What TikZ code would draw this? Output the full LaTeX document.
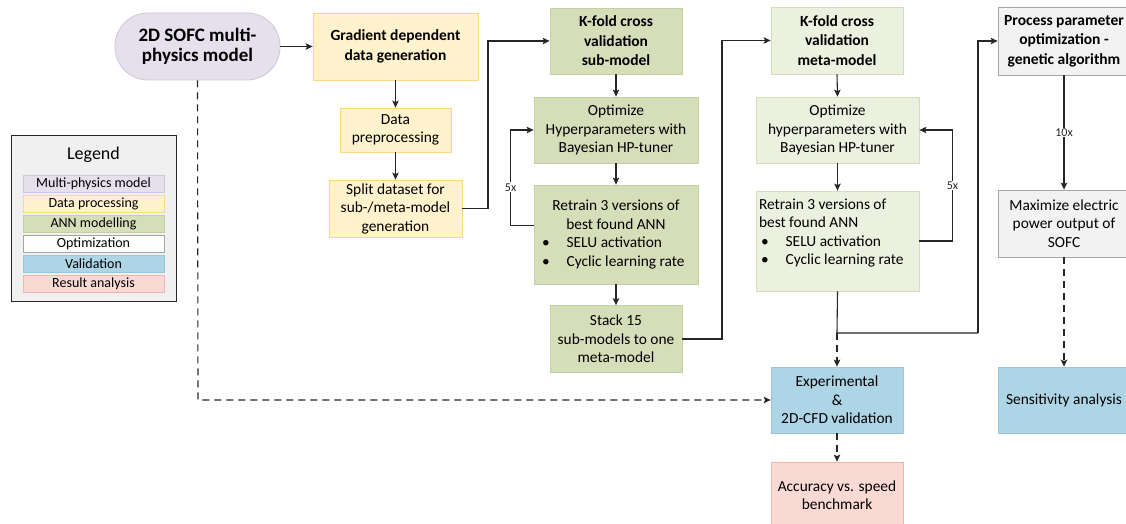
\documentclass[tikz,border=0pt]{standalone}
\usepackage{fontspec}
\setmainfont{Carlito}
\usetikzlibrary{arrows.meta,calc}
\definecolor{lavfill}{HTML}{E5E0EC}
\definecolor{lavline}{HTML}{CFC6DF}
\definecolor{yelfill}{HTML}{FFF2CC}
\definecolor{yelline}{HTML}{F9D88A}
\definecolor{grnfill}{HTML}{D6DEB9}
\definecolor{grnline}{HTML}{C3D1A0}
\definecolor{lgrnfill}{HTML}{EBF1DE}
\definecolor{lgrnline}{HTML}{D3DFB6}
\definecolor{gryfill}{HTML}{F2F2F2}
\definecolor{gryline}{HTML}{A6A6A6}
\definecolor{blufill}{HTML}{ADD5E5}
\definecolor{bluline}{HTML}{98C6DC}
\definecolor{pnkfill}{HTML}{F8D9D4}
\definecolor{pnkline}{HTML}{F0B6AE}
\definecolor{lgdfill}{HTML}{F0F0F0}
\definecolor{inkc}{HTML}{262626}
\newcommand{\fsn}{\fontsize{15.4}{18.5}\selectfont}
\newcommand{\fsb}{\fontsize{15.5}{19.5}\selectfont\bfseries}
\newcommand{\fsl}{\fontsize{14}{15}\selectfont}
\newcommand{\fslab}{\fontsize{12}{13}\selectfont}
\begin{document}
\begin{tikzpicture}[x=1pt,y=-1pt,
  box/.style={draw, rectangle, align=center, inner sep=2pt, line width=0.8pt, font=\fsn, text=black},
  sz/.style 2 args={minimum width=#1, minimum height=#2},
  mphys/.style={box, fill=lavfill, draw=lavline},
  dproc/.style={box, fill=yelfill, draw=yelline},
  ann/.style={box, fill=grnfill, draw=grnline},
  annl/.style={box, fill=lgrnfill, draw=lgrnline},
  optim/.style={box, fill=gryfill, draw=gryline},
  valid/.style={box, fill=blufill, draw=bluline},
  resan/.style={box, fill=pnkfill, draw=pnkline},
  conn/.style={draw=inkc, line width=1.1pt, -{Stealth[length=7pt,width=6.5pt,inset=1.5pt]}},
  plain/.style={draw=inkc, line width=1.1pt},
  dconn/.style={conn, dash pattern=on 7pt off 5pt},
  lbl/.style={fill=white, inner sep=1pt, font=\fslab, text=inkc},
  lgditem/.style={box, font=\fsl, sz={141pt}{17pt}, inner sep=0pt, line width=0.7pt}
]
\useasboundingbox (0,0) rectangle (1126,524);
\clip (0,0) rectangle (1126,524);

% Legend
\node[draw=inkc, fill=lgdfill, line width=1pt, minimum width=165pt, minimum height=166pt] (legend) at (93.5,218) {};
\node[font=\fontsize{18}{20}\selectfont] (legendtitle) at (93.5,155) {Legend};
\node[lgditem, fill=lavfill, draw=lavline] (lg1) at (93.5,184) {Multi-physics model};
\node[lgditem, fill=yelfill, draw=yelline] (lg2) at (93.5,204) {Data processing};
\node[lgditem, fill=grnfill, draw=grnline] (lg3) at (93.5,224) {ANN modelling};
\node[lgditem, fill=white, draw=gryline] (lg4) at (93.5,244) {Optimization};
\node[lgditem, fill=blufill, draw=bluline] (lg5) at (93.5,264) {Validation};
\node[lgditem, fill=pnkfill, draw=pnkline] (lg6) at (93.5,284) {Result analysis};

% Column 1
\node[mphys, sz={165pt}{67pt}, rounded corners=33pt, font=\fontsize{19}{20.5}\selectfont\bfseries] (sofc) at (197.5,46.5) {2D SOFC multi-\\physics model};
\node[dproc, sz={165pt}{67pt}, font=\fsb] (grad) at (395.5,46.5) {Gradient dependent\\data generation};
\node[dproc, sz={111pt}{44pt}] (prep) at (395.5,130) {Data\\preprocessing};
\node[dproc, sz={133pt}{57pt}] (split) at (395.5,208.5) {Split dataset for\\sub-/meta-model\\generation};

% Column 2 (sub-model)
\node[ann, sz={132pt}{66pt}, font=\fsb] (kfs) at (616,41) {K-fold cross\\validation\\sub-model};
\node[ann, sz={164pt}{66pt}] (opts) at (616,130) {Optimize\\Hyperparameters with\\Bayesian HP-tuner};
\node[ann, sz={164pt}{99pt}] (rets) at (616,234.5) {Retrain 3 versions of\\best found ANN\\\makebox[152pt][l]{\hspace{2pt}\textbullet\hspace{17pt}SELU activation}\\\makebox[152pt][l]{\hspace{2pt}\textbullet\hspace{17pt}Cyclic learning rate}};
\node[ann, sz={132pt}{67pt}] (stack) at (616,339) {Stack 15\\sub-models to one\\meta-model};

% Column 3 (meta-model)
\node[annl, sz={163pt}{100pt}, align=flush left, text width=157pt, inner xsep=3pt] (retm) at (837.5,241) {Retrain 3 versions of\\best found ANN\\\hspace{2pt}\textbullet\hspace{17pt}SELU activation\\\hspace{2pt}\textbullet\hspace{17pt}Cyclic learning rate\\\mbox{}};
\node[annl, sz={132pt}{67pt}, font=\fsb] (kfm) at (837,40.5) {K-fold cross\\validation\\meta-model};
\node[annl, sz={163pt}{66pt}] (optm) at (837.5,130) {Optimize\\hyperparameters with\\Bayesian HP-tuner};
\node[valid, sz={132pt}{66pt}] (exp) at (837,400) {Experimental\\\&\\2D-CFD validation};
\node[resan, sz={132pt}{66pt}] (acc) at (837,495) {Accuracy vs. speed\\benchmark};

% Column 4 (optimization)
\node[optim, sz={132pt}{68pt}, font=\fsb] (proc) at (1064,41) {Process parameter\\optimization -\\genetic algorithm};
\node[optim, sz={132pt}{67pt}] (maxp) at (1064,223.5) {Maximize electric\\power output of\\SOFC};
\node[valid, sz={132pt}{66pt}] (sens) at (1064,400) {Sensitivity analysis};

% Connectors
\coordinate (c1) at (488,208.5);
\coordinate (c2) at (722,339);
\coordinate (junc) at (837,333);
\coordinate (c3) at (978,333);
\coordinate (c4) at (198,400);

\draw[conn] (sofc.east) -- (grad.west);
\draw[conn] (grad.south) -- (prep.north);
\draw[conn] (prep.south) -- (split.north);
\draw[conn] (split.east) -- (c1) |- (kfs.west);
\draw[conn] (kfs.south) -- (opts.north);
\draw[conn] (opts.south) -- (rets.north);
\draw[conn] (rets.south) -- (stack.north);
\draw[conn] ($(rets.west)+(0,-9)$) -- ++(-23,0) |- node[lbl, pos=0.2] {5x} (opts.west);
\draw[conn] (stack.east) -- (c2) |- (kfm.west);
\draw[conn] (kfm.south) -- (optm.north);
\draw[conn] (optm.south) -- (retm.north);
\draw[conn] (retm.east) -- ++(33,0) |- node[lbl, pos=0.25] {5x} (optm.east);
\draw[plain] (retm.south) -- (junc) -- (c3);
\draw[conn] (c3) |- (proc.west);
\draw[dconn] (junc) -- (exp.north);
\draw[dconn] (sofc.south) -- (c4) -- (exp.west);
\draw[dconn] (exp.south) -- (acc.north);
\draw[conn] (proc.south) -- node[lbl] {10x} (maxp.north);
\draw[dconn] (maxp.south) -- (sens.north);
\end{tikzpicture}
\end{document}
